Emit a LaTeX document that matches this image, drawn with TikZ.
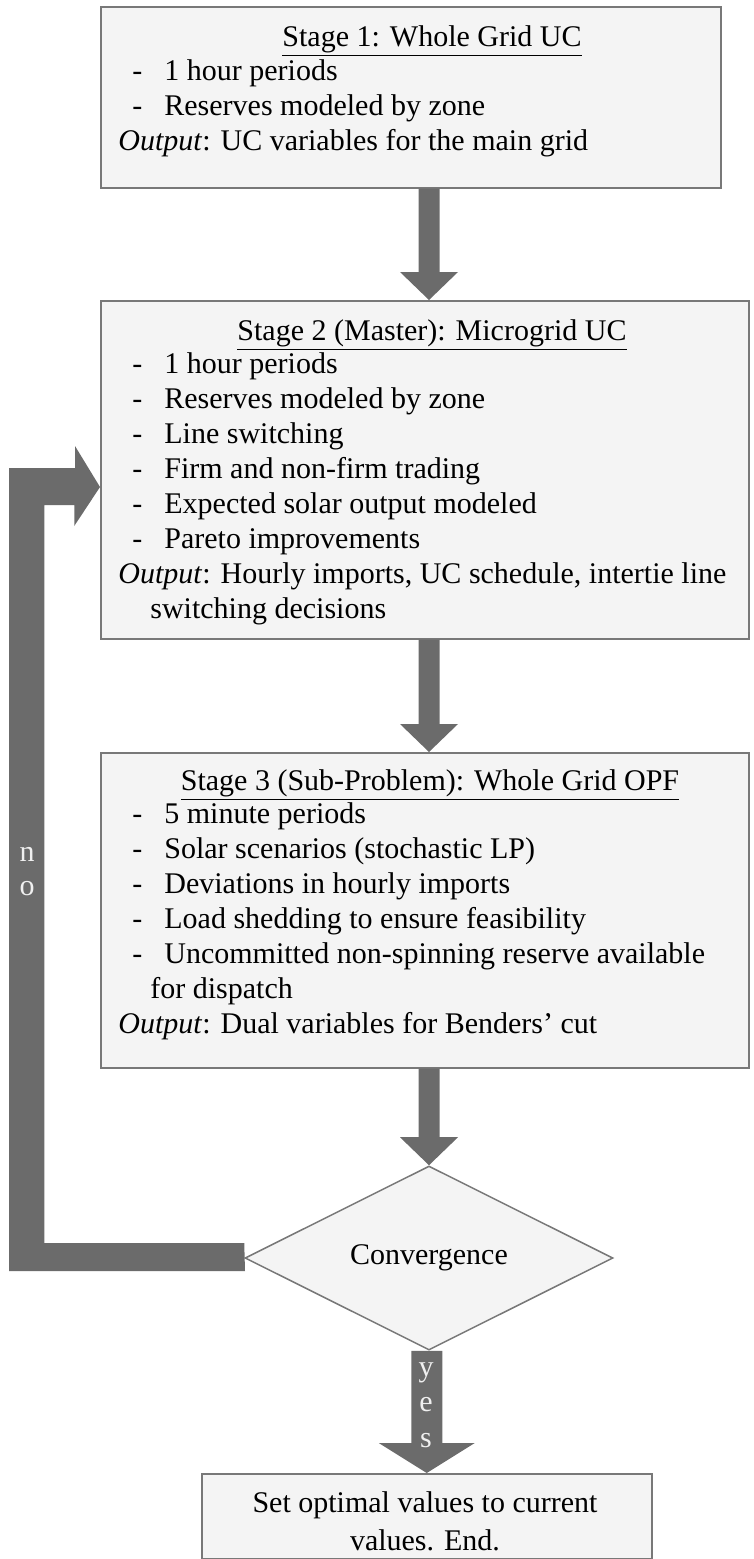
\documentclass[tikz,border=0pt]{standalone}
\usepackage{fontspec}
\setmainfont{Liberation Serif}
\usetikzlibrary{calc,shapes.geometric}
\definecolor{boxfill}{RGB}{244,244,244}
\definecolor{boxline}{RGB}{120,120,120}
\definecolor{flowgray}{RGB}{107,107,107}
\definecolor{flowtext}{RGB}{240,240,240}

\newcommand{\bul}{\hspace*{7pt}\makebox[16pt][l]{-}}
\newcommand{\hang}{\hspace*{16pt}}
% vertical block arrow: start, tip, half shaft, half head, head length
\newcommand{\vblock}[5]{%
  \fill[flowgray] let \p1=(#1), \p2=(#2) in
    (\x2-#3,\y1) -- (\x2+#3,\y1) -- (\x2+#3,\y2+#5) -- (\x2+#4,\y2+#5)
    -- (\x2,\y2) -- (\x2-#4,\y2+#5) -- (\x2-#3,\y2+#5) -- cycle;}

\begin{document}
\begin{tikzpicture}[x=0.5pt,y=-0.5pt,font=\fontsize{15pt}{17.5pt}\selectfont,
    stagebox/.style={draw=boxline,fill=boxfill,line width=0.75pt,anchor=north west,inner sep=0pt},
    stagetitle/.style={anchor=base,inner sep=0pt},
    stagebody/.style={anchor=base west,align=left,inner sep=0pt},
    flowlabel/.style={text=flowtext,align=center,inner sep=0pt}]
  \useasboundingbox (0,0) rectangle (754,1559);

  % stage boxes
  \node[stagebox,minimum width=310pt,minimum height=90.5pt] (s1) at (100,6) {};
  \node[stagebox,minimum width=324pt,minimum height=169pt] (s2) at (100,300) {};
  \node[stagebox,minimum width=324pt,minimum height=157.5pt] (s3) at (100,752) {};
  \node[draw=boxline,fill=boxfill,line width=0.75pt,diamond,inner sep=0pt,
    minimum width=184pt,minimum height=78.5pt] (conv) at (429,1258) {Convergence};
  \node[stagebox,minimum width=225pt,minimum height=42.5pt] (final) at (201,1473) {};

  % texts (base = last line)
  \node[stagetitle] (s1title) at (432,46) {\underline{Stage 1: Whole Grid UC}};
  \node[stagebody] (s1body) at (118,150) {\bul 1 hour periods\\
    \bul Reserves modeled by zone\\
    \textit{Output}: UC variables for the main grid};
  \node[stagetitle] (s2title) at (432,340) {\underline{Stage 2 (Master): Microgrid UC}};
  \node[stagebody] (s2body) at (118,618) {\bul 1 hour periods\\
    \bul Reserves modeled by zone\\
    \bul Line switching\\
    \bul Firm and non-firm trading\\
    \bul Expected solar output modeled\\
    \bul Pareto improvements\\
    \textit{Output}: Hourly imports, UC schedule, intertie line\\
    \hang switching decisions};
  \node[stagetitle] (s3title) at (430,790) {\underline{Stage 3 (Sub-Problem): Whole Grid OPF}};
  \node[stagebody] (s3body) at (118,1033) {\bul 5 minute periods\\
    \bul Solar scenarios (stochastic LP)\\
    \bul Deviations in hourly imports\\
    \bul Load shedding to ensure feasibility\\
    \bul Uncommitted non-spinning reserve available\\
    \hang for dispatch\\
    \textit{Output}: Dual variables for Benders’ cut};
  \node[anchor=base,align=center,inner sep=0pt,font=\fontsize{15pt}{19pt}\selectfont]
    (finaltext) at (425,1550) {Set optimal values to current\\ values. End.};

  % block arrows
  \vblock{s1.south -| conv.north}{s2.north -| conv.north}{5.25pt}{14.5pt}{14pt}
  \vblock{s2.south -| conv.north}{s3.north -| conv.north}{5.25pt}{14.5pt}{14pt}
  \vblock{s3.south -| conv.north}{conv.north}{5.25pt}{14.5pt}{14pt}
  \vblock{conv.south -| final.north}{final.north}{7.75pt}{24pt}{15pt}

  % loop back to stage 2
  \coordinate (loopin) at (100,487);
  \fill[flowgray] (conv.west) ++(0,-15) -- ++(-200,0) -- ++(0,-738) -- ++(30,0)
    -- ++(0,21) -- (loopin) -- ++(-25,-41) -- ++(0,22) -- ++(-66,0)
    -- ++(0,803) -- ++(236,0) -- cycle;

  \node[flowlabel,font=\fontsize{15pt}{17pt}\selectfont] (nolabel) at (27,872) {n\\o};
  \node[flowlabel,font=\fontsize{15pt}{17.75pt}\selectfont] (yeslabel) at (426,1405) {y\\e\\s};
\end{tikzpicture}
\end{document}
